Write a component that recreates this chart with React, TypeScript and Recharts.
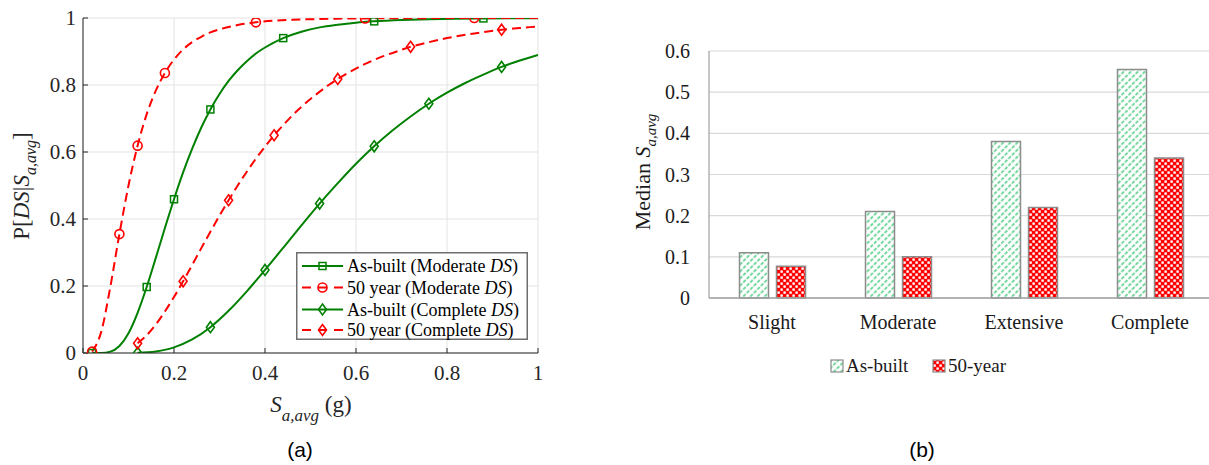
import React from 'react'
import {
  ComposedChart,
  Line,
  XAxis,
  YAxis,
  CartesianGrid,
  Legend,
  Label,
  BarChart,
  Bar,
} from 'recharts'

const SERIF = '"Liberation Serif", "Times New Roman", Times, serif'
const SANS = '"Liberation Sans", Arial, Helvetica, sans-serif'
const GREEN = '#008000'
const RED = '#ff0000'
const AXIS = '#262626'
const serifStyle = { fontFamily: SERIF }

// (a) fragility curves
const asBuiltModX = [0.02, 0.04, 0.06, 0.08, 0.1, 0.12, 0.14, 0.16, 0.18, 0.2, 0.22, 0.24, 0.26, 0.28, 0.3, 0.32, 0.34, 0.36, 0.38, 0.4, 0.44, 0.48, 0.52, 0.56, 0.6, 0.64, 0.7, 0.76, 0.82, 0.88, 0.94, 1]
const asBuiltModY = [0, 0.0002, 0.004, 0.021, 0.059, 0.12, 0.197, 0.284, 0.373, 0.459, 0.539, 0.61, 0.673, 0.727, 0.773, 0.812, 0.844, 0.871, 0.894, 0.912, 0.94, 0.959, 0.972, 0.98, 0.986, 0.99, 0.994, 0.9965, 0.998, 0.9987, 0.9992, 0.9995]
const asBuiltModMarks = [0.02, 0.14, 0.2, 0.28, 0.44, 0.64, 0.88]

const fiftyModX = [0.02, 0.04, 0.06, 0.08, 0.1, 0.12, 0.14, 0.16, 0.18, 0.2, 0.22, 0.24, 0.26, 0.28, 0.3, 0.34, 0.38, 0.42, 0.46, 0.5, 0.56, 0.62, 0.7, 0.8, 0.86, 1]
const fiftyModY = [0.004, 0.063, 0.197, 0.355, 0.5, 0.619, 0.713, 0.783, 0.836, 0.876, 0.906, 0.928, 0.944, 0.957, 0.966, 0.979, 0.987, 0.992, 0.9945, 0.9963, 0.998, 0.9988, 0.9994, 0.9997, 0.9998, 0.9999]
const fiftyModMarks = [0.02, 0.08, 0.12, 0.18, 0.38, 0.62, 0.86]

const asBuiltCompX = [0.12, 0.16, 0.2, 0.24, 0.28, 0.32, 0.36, 0.4, 0.44, 0.48, 0.52, 0.56, 0.6, 0.64, 0.68, 0.72, 0.76, 0.8, 0.84, 0.88, 0.92, 0.96, 1]
const asBuiltCompY = [0.0007, 0.0048, 0.0168, 0.0404, 0.077, 0.126, 0.184, 0.248, 0.314, 0.381, 0.446, 0.507, 0.565, 0.617, 0.664, 0.706, 0.744, 0.777, 0.806, 0.831, 0.854, 0.873, 0.89]
const asBuiltCompMarks = [0.12, 0.28, 0.4, 0.52, 0.64, 0.76, 0.92]

const fiftyCompX = [0.12, 0.14, 0.16, 0.18, 0.2, 0.22, 0.24, 0.26, 0.28, 0.3, 0.32, 0.34, 0.36, 0.38, 0.4, 0.42, 0.44, 0.46, 0.48, 0.5, 0.54, 0.56, 0.58, 0.62, 0.66, 0.7, 0.72, 0.74, 0.8, 0.86, 0.92, 0.96, 1]
const fiftyCompY = [0.029, 0.053, 0.085, 0.124, 0.167, 0.214, 0.263, 0.313, 0.362, 0.41, 0.456, 0.5, 0.541, 0.58, 0.616, 0.65, 0.68, 0.709, 0.735, 0.758, 0.8, 0.818, 0.834, 0.863, 0.886, 0.905, 0.914, 0.921, 0.94, 0.954, 0.965, 0.97, 0.975]
const fiftyCompMarks = [0.12, 0.22, 0.32, 0.42, 0.56, 0.72, 0.92]

const saTicks = [0, 0.2, 0.4, 0.6, 0.8, 1]
const probTicks = [0, 0.2, 0.4, 0.6, 0.8, 1]

// (b) median Sa,avg per damage state
const damageStates = ['Slight', 'Moderate', 'Extensive', 'Complete']
const asBuiltMedian = [0.11, 0.21, 0.38, 0.555]
const fiftyYearMedian = [0.077, 0.1, 0.22, 0.34]
const medianTicks = [0, 0.1, 0.2, 0.3, 0.4, 0.5, 0.6]

type Pt = { x: number; y: number; mark: boolean }
type Kind = 'square' | 'circle' | 'diamond'

const toPoints = (xs: number[], ys: number[], marks: number[]): Pt[] =>
  xs.map((x, i) => ({ x, y: ys[i], mark: marks.includes(x) }))

const curves = [
  { key: 'abm', pre: 'As-built (Moderate ', color: GREEN, dashed: false, kind: 'square' as Kind, data: toPoints(asBuiltModX, asBuiltModY, asBuiltModMarks) },
  { key: 'fym', pre: '50 year (Moderate ', color: RED, dashed: true, kind: 'circle' as Kind, data: toPoints(fiftyModX, fiftyModY, fiftyModMarks) },
  { key: 'abc', pre: 'As-built (Complete ', color: GREEN, dashed: false, kind: 'diamond' as Kind, data: toPoints(asBuiltCompX, asBuiltCompY, asBuiltCompMarks) },
  { key: 'fyc', pre: '50 year (Complete ', color: RED, dashed: true, kind: 'diamond' as Kind, data: toPoints(fiftyCompX, fiftyCompY, fiftyCompMarks) },
]

const barData = damageStates.map((name, i) => ({
  name,
  asBuilt: asBuiltMedian[i],
  fiftyYear: fiftyYearMedian[i],
}))

function Marker({ kind, color, cx, cy }: { kind: Kind; color: string; cx: number; cy: number }) {
  if (kind === 'square') {
    return <rect x={cx - 3.5} y={cy - 3.5} width={7} height={7} fill="none" stroke={color} strokeWidth={1.5} />
  }
  if (kind === 'circle') {
    return <circle cx={cx} cy={cy} r={4.5} fill="none" stroke={color} strokeWidth={1.6} />
  }
  return (
    <path
      d={`M${cx},${cy - 5.5}L${cx + 4},${cy}L${cx},${cy + 5.5}L${cx - 4},${cy}Z`}
      fill="none"
      stroke={color}
      strokeWidth={1.6}
    />
  )
}

const dotFor = (kind: Kind, color: string) => (props: any) => {
  const { cx, cy, payload, index } = props
  if (!payload || !payload.mark || cx == null || cy == null) return <g key={`d-${index}`} />
  return (
    <g key={`d-${index}`}>
      <Marker kind={kind} color={color} cx={cx} cy={cy} />
    </g>
  )
}

// serif tick text, drawn as our own <text> element
const serifTick = (anchor: 'start' | 'middle' | 'end', dy: number, fontSize: number, fill: string) => (props: any) => {
  const { x, y, payload } = props
  return (
    <text x={x} y={y + dy} textAnchor={anchor} fontSize={fontSize} fill={fill} style={serifStyle}>
      {String(payload.value)}
    </text>
  )
}

const renderLegendA = () => (
  <svg width={232} height={88} style={{ display: 'block', ...serifStyle }}>
    <rect x={0.75} y={0.75} width={230.5} height={86.5} fill="#fff" stroke="#6e6e6e" strokeWidth={1.5} />
    {curves.map((c, i) => {
      const y = [14, 35.5, 57.5, 78][i]
      return (
        <g key={c.key}>
          <line x1={6} y1={y} x2={47} y2={y} stroke={c.color} strokeWidth={2} strokeDasharray={c.dashed ? '9 7' : undefined} />
          <Marker kind={c.kind} color={c.color} cx={26.5} cy={y} />
          <text x={51} y={y + 6} fontSize={18} fill="#000" style={serifStyle}>
            {c.pre}
            <tspan fontStyle="italic">DS</tspan>)
          </text>
        </g>
      )
    })}
  </svg>
)

const renderLegendB = () => (
  <svg width={200} height={24} style={{ display: 'block', ...serifStyle }}>
    <rect x={3} y={5} width={12} height={12} fill="url(#hatchGreen)" stroke="#8c8c8c" strokeWidth={1.2} />
    <text x={18} y={17} fontSize={19} fill="#1a1a1a" style={serifStyle}>As-built</text>
    <rect x={105} y={5} width={12} height={12} fill="url(#checkRed)" stroke="#8c8c8c" strokeWidth={1.2} />
    <text x={120} y={17} fontSize={19} fill="#1a1a1a" style={serifStyle}>50-year</text>
  </svg>
)

const YLabelA = () => (
  <text
    x={29}
    y={186}
    transform="rotate(-90 29 186)"
    textAnchor="middle"
    style={{ ...serifStyle, fontSize: 23, fill: AXIS }}
  >
    P[<tspan fontStyle="italic">DS</tspan>|<tspan fontStyle="italic">S</tspan>
    <tspan fontStyle="italic" fontSize={16} dy={7}>a,avg</tspan>
    <tspan dy={-7}>]</tspan>
  </text>
)

const XLabelA = () => (
  <text x={311} y={412} textAnchor="middle" style={{ ...serifStyle, fontSize: 23, fill: AXIS }}>
    <tspan fontStyle="italic">S</tspan>
    <tspan fontStyle="italic" fontSize={17} dy={9}>a,avg</tspan>
    <tspan dy={-9}> (g)</tspan>
  </text>
)

// coordinates are inside the (b) chart, which starts at x = 600
const YLabelB = () => (
  <text
    x={50}
    y={172}
    transform="rotate(-90 50 172)"
    textAnchor="middle"
    style={{ ...serifStyle, fontSize: 22, fill: '#1a1a1a' }}
  >
    Median <tspan fontStyle="italic">S</tspan>
    <tspan fontStyle="italic" fontSize={15} dy={6}>a,avg</tspan>
  </text>
)

export default function App() {
  return (
    <div
      style={{
        position: 'absolute',
        left: 0,
        top: 0,
        width: 1209,
        height: 465,
        overflow: 'hidden',
        background: '#fff',
        fontFamily: SERIF,
      }}
    >
      {/* (a) fragility curves */}
      <div style={{ position: 'absolute', left: 0, top: 0 }}>
        <ComposedChart
          width={560}
          height={465}
          margin={{ top: 18, right: 22, bottom: 82, left: 0 }}
          style={serifStyle}
        >
          <CartesianGrid stroke="#e3e3e3" strokeWidth={1} xAxisId="bottom" yAxisId="left" />
          <XAxis
            xAxisId="bottom"
            type="number"
            dataKey="x"
            domain={[0, 1]}
            ticks={saTicks}
            allowDataOverflow
            height={30}
            tick={serifTick('middle', 15, 21, AXIS)}
            axisLine={{ stroke: AXIS, strokeWidth: 1 }}
            tickLine={{ stroke: AXIS }}
            tickSize={-5}
            tickMargin={17}
          >
            <Label content={() => <XLabelA />} />
          </XAxis>
          <XAxis
            xAxisId="top"
            orientation="top"
            type="number"
            dataKey="x"
            domain={[0, 1]}
            ticks={saTicks}
            height={0}
            tick={false}
            axisLine={{ stroke: AXIS, strokeWidth: 1 }}
            tickLine={{ stroke: AXIS }}
            tickSize={-5}
          />
          <YAxis
            yAxisId="left"
            type="number"
            domain={[0, 1]}
            ticks={probTicks}
            allowDataOverflow
            width={83}
            tick={serifTick('end', 7, 21, AXIS)}
            axisLine={{ stroke: AXIS, strokeWidth: 1 }}
            tickLine={{ stroke: AXIS }}
            tickSize={-5}
            tickMargin={12}
          >
            <Label content={() => <YLabelA />} />
          </YAxis>
          <YAxis
            yAxisId="right"
            orientation="right"
            type="number"
            domain={[0, 1]}
            ticks={probTicks}
            width={0}
            tick={false}
            axisLine={{ stroke: AXIS, strokeWidth: 1 }}
            tickLine={{ stroke: AXIS }}
            tickSize={-5}
          />
          {curves.map((c) => (
            <Line
              key={c.key}
              xAxisId="bottom"
              yAxisId="left"
              data={c.data}
              dataKey="y"
              type="monotone"
              stroke={c.color}
              strokeWidth={2}
              strokeDasharray={c.dashed ? '9 5' : undefined}
              dot={dotFor(c.kind, c.color)}
              activeDot={false}
              isAnimationActive={false}
            />
          ))}
          <Legend
            layout="vertical"
            align="center"
            verticalAlign="middle"
            wrapperStyle={{ left: 296, top: 252, width: 232, height: 88 }}
            content={renderLegendA}
          />
        </ComposedChart>
      </div>

      {/* (b) median intensity per damage state */}
      <div style={{ position: 'absolute', left: 600, top: 0 }}>
        <BarChart
          width={613}
          height={465}
          data={barData}
          margin={{ top: 51, right: 0, bottom: 127, left: 0 }}
          barCategoryGap={30.5}
          barGap={8}
          style={serifStyle}
        >
          <defs>
            <pattern
              id="hatchGreen"
              patternUnits="userSpaceOnUse"
              width={5}
              height={5}
              patternTransform="rotate(45)"
            >
              <rect width={5} height={5} fill="#fff" />
              <line x1={1} y1={0} x2={1} y2={3.6} stroke="#2ec46c" strokeWidth={1.3} />
            </pattern>
            <pattern id="checkRed" patternUnits="userSpaceOnUse" width={6} height={6}>
              <rect width={6} height={6} fill="#ff0000" />
              <rect x={0.4} y={0.4} width={2.4} height={2.4} fill="#fff" />
              <rect x={3.4} y={3.4} width={2.4} height={2.4} fill="#fff" />
            </pattern>
          </defs>
          <CartesianGrid vertical={false} stroke="#d9d9d9" strokeWidth={1.2} />
          <XAxis
            dataKey="name"
            height={40}
            tick={serifTick('middle', 14, 20, '#1a1a1a')}
            axisLine={{ stroke: '#a0a0a0', strokeWidth: 1.5 }}
            tickLine={false}
            tickSize={0}
            tickMargin={17}
          />
          <YAxis
            type="number"
            domain={[0, 0.6]}
            ticks={medianTicks}
            width={109}
            tick={serifTick('end', 7, 20, '#1a1a1a')}
            axisLine={{ stroke: '#a0a0a0', strokeWidth: 1.2 }}
            tickLine={false}
            tickSize={0}
            tickMargin={19}
          >
            <Label content={() => <YLabelB />} />
          </YAxis>
          <Bar dataKey="asBuilt" fill="url(#hatchGreen)" stroke="#8c8c8c" strokeWidth={1.5} isAnimationActive={false} />
          <Bar dataKey="fiftyYear" fill="url(#checkRed)" stroke="#8c8c8c" strokeWidth={1.5} isAnimationActive={false} />
          <Legend
            layout="vertical"
            align="center"
            verticalAlign="middle"
            wrapperStyle={{ left: 228, top: 355, width: 200, height: 24 }}
            content={renderLegendB}
          />
        </BarChart>
      </div>

      <div style={{ position: 'absolute', left: 270, top: 438, width: 60, textAlign: 'center', fontFamily: SANS, fontSize: 21, color: '#000' }}>
        (a)
      </div>
      <div style={{ position: 'absolute', left: 892, top: 438, width: 60, textAlign: 'center', fontFamily: SANS, fontSize: 21, color: '#000' }}>
        (b)
      </div>
    </div>
  )
}
